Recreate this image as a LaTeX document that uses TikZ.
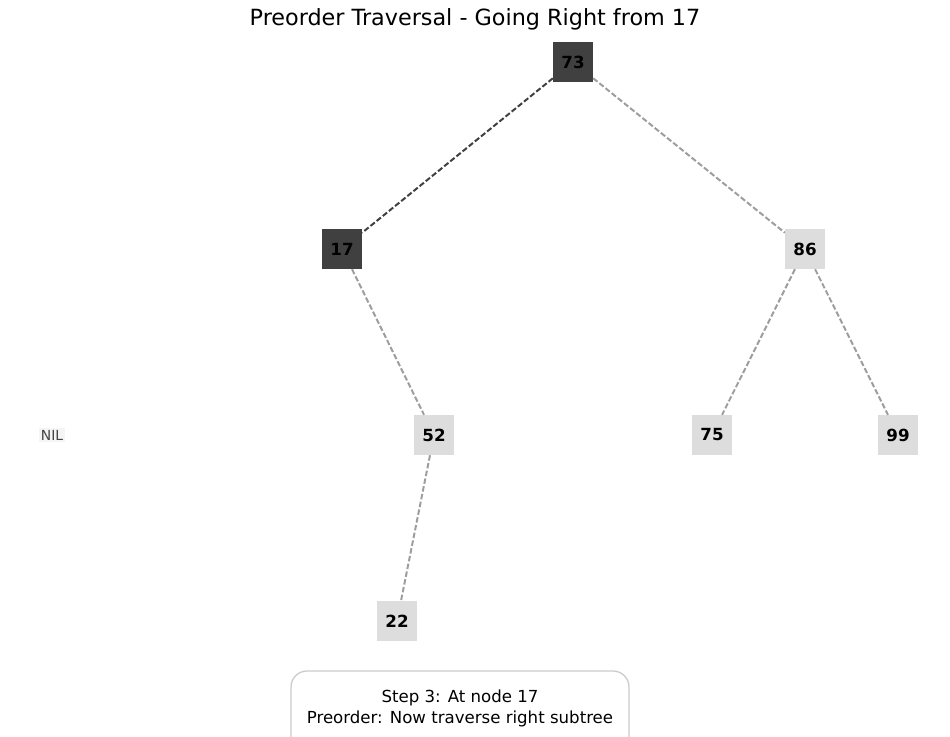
\documentclass[tikz,border=0pt]{standalone}
\usepackage{fontspec}
\setmainfont{DejaVu Sans}
\definecolor{darkn}{HTML}{404040}
\definecolor{lightn}{HTML}{DDDDDD}
\definecolor{ledge}{HTML}{9E9E9E}
\definecolor{boxb}{HTML}{CCCCCC}
\definecolor{nilbg}{HTML}{F5F5F5}
\definecolor{niltx}{HTML}{444444}
\begin{document}
\begin{tikzpicture}[x=1pt,y=-1pt,
  tn/.style={rectangle,minimum width=40pt,minimum height=40pt,inner sep=0pt,font=\fontsize{16.7}{18}\selectfont\bfseries},
  dn/.style={tn,fill=darkn,text=black},
  ln/.style={tn,fill=lightn,text=black},
  de/.style={draw=darkn,line width=2pt,dash pattern=on 5.5pt off 2.4pt},
  le/.style={draw=ledge,line width=2pt,dash pattern=on 5.5pt off 2.4pt}]
\useasboundingbox (0,0) rectangle (950,736);
\node[font=\fontsize{22.3}{25}\selectfont] (title) at (475,19) {Preorder Traversal - Going Right from 17};
\node[dn] (n73) at (573,62) {73};
\node[dn] (n17) at (342,249) {17};
\node[ln] (n86) at (805,249) {86};
\node[ln] (n52) at (434,435) {52};
\node[ln] (n75) at (712,435) {75};
\node[ln] (n99) at (898,435) {99};
\node[ln] (n22) at (397,621) {22};
\node[fill=nilbg,text=niltx,font=\fontsize{13.9}{15}\selectfont,inner sep=2pt] (nil) at (52,435) {NIL};
\draw[de] (n73) -- (n17);
\draw[le] (n73) -- (n86);
\draw[le] (n17) -- (n52);
\draw[le] (n86) -- (n75);
\draw[le] (n86) -- (n99);
\draw[le] (n52) -- (n22);
\draw[draw=boxb,line width=1.3pt,fill=white,rounded corners=16pt] (291,671) rectangle (629,770);
\node[align=center,font=\fontsize{16.6}{21}\selectfont] (info) at (460,708) {Step 3: At node 17\\Preorder: Now traverse right subtree};
\end{tikzpicture}
\end{document}
